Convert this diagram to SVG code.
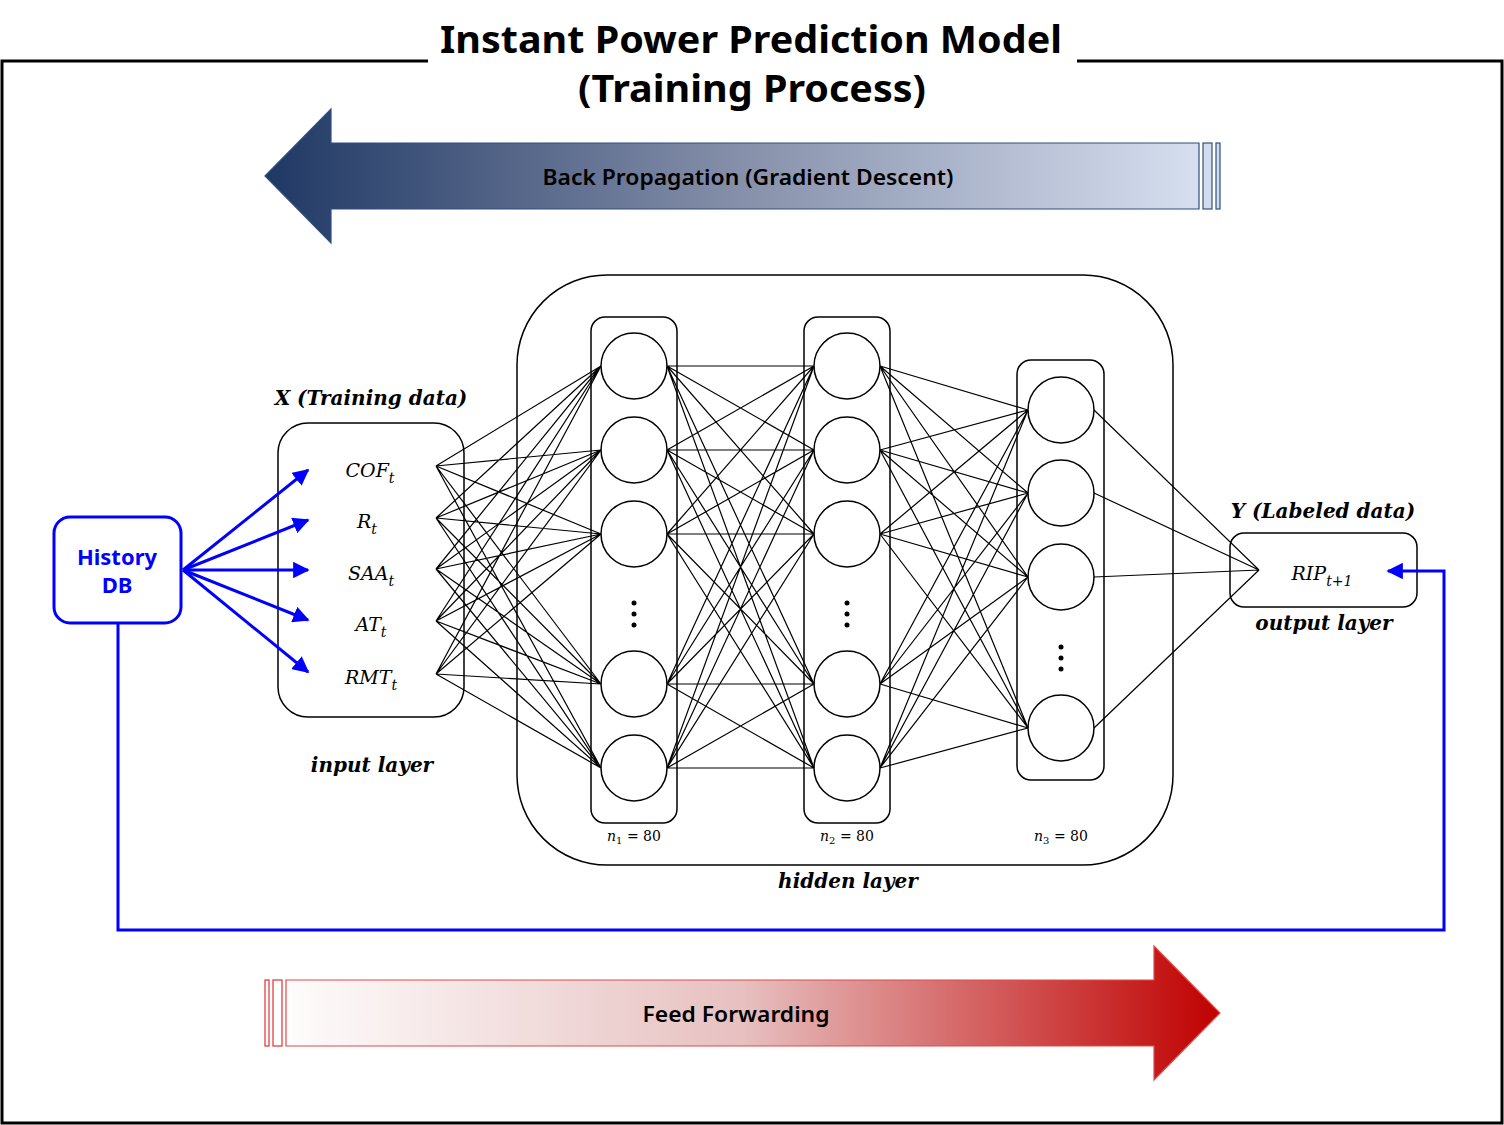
<svg xmlns="http://www.w3.org/2000/svg" width="1504" height="1125" viewBox="0 0 1504 1125">
<defs>
<linearGradient id="gBack" gradientUnits="userSpaceOnUse" x1="265" y1="0" x2="1220" y2="0">
<stop offset="0" stop-color="#1f3864"/>
<stop offset="0.5" stop-color="#8690aa"/>
<stop offset="1" stop-color="#dae3f3"/>
</linearGradient>
<linearGradient id="gFwd" gradientUnits="userSpaceOnUse" x1="265" y1="0" x2="1220" y2="0">
<stop offset="0" stop-color="#ffffff"/>
<stop offset="0.5" stop-color="#e7c0c0"/>
<stop offset="1" stop-color="#c00000"/>
</linearGradient>
<marker id="blueHead" viewBox="0 0 10 10" refX="9" refY="5" markerWidth="5.5" markerHeight="5.5" orient="auto" markerUnits="strokeWidth">
<path d="M0 0L10 5L0 10z" fill="#0000ff"/>
</marker>
</defs>
<style>
.title{font-family:"Noto Sans","Open Sans",sans-serif;font-weight:700;font-size:37px;fill:#000;text-anchor:middle}
.arrtxt{font-family:"Noto Sans","Open Sans",sans-serif;font-weight:600;font-size:22px;fill:#000;text-anchor:middle}
.db{font-family:"Noto Sans","Open Sans",sans-serif;font-weight:700;font-size:22px;fill:#0000ff;text-anchor:middle}
.math{font-family:"DejaVu Serif",serif;font-style:italic;font-size:19px;fill:#000;text-anchor:middle}
.lbl{font-family:"DejaVu Serif",serif;font-style:italic;font-weight:700;font-size:20px;fill:#000;text-anchor:middle}
.small{font-family:"DejaVu Serif",serif;font-size:14px;fill:#000;text-anchor:middle}
.box{fill:none;stroke:#000;stroke-width:1.5}
.neuron{fill:#fff;stroke:#000;stroke-width:1.5}
.conn{fill:none;stroke:#000;stroke-width:1.2}
.blue{fill:none;stroke:#0000ff;stroke-width:3}
</style>
<rect width="1504" height="1125" fill="#fff"/>
<path d="M428 61H2V1123H1502V61H1077" fill="none" stroke="#000" stroke-width="3"/>
<text class="title" x="751" y="53" textLength="622" lengthAdjust="spacingAndGlyphs">Instant Power Prediction Model</text>
<text class="title" x="752" y="102" textLength="348" lengthAdjust="spacingAndGlyphs">(Training Process)</text>

<g id="backprop">
<path d="M265 176L331 109V143H1199V209H331V243Z" fill="url(#gBack)" stroke="#2f4f80" stroke-width="1.2"/>
<rect x="1203" y="143" width="9" height="66" fill="#d3dcef" stroke="#2f4f80" stroke-width="1.2"/>
<rect x="1216" y="143" width="4" height="66" fill="#d3dcef" stroke="#2f4f80" stroke-width="1.2"/>
<text class="arrtxt" x="748" y="185" textLength="411" lengthAdjust="spacingAndGlyphs">Back Propagation (Gradient Descent)</text>
</g>

<g id="feedforward">
<path d="M286 980H1154V946L1220 1013L1154 1080V1046H286Z" fill="url(#gFwd)" stroke="#e04a4a" stroke-width="1.2"/>
<rect x="265" y="980" width="4" height="66" fill="#fff" stroke="#e03030" stroke-width="1.2"/>
<rect x="273" y="980" width="9" height="66" fill="#fff" stroke="#e03030" stroke-width="1.2"/>
<text class="arrtxt" x="736" y="1022" textLength="187" lengthAdjust="spacingAndGlyphs">Feed Forwarding</text>
</g>

<g id="history-db">
<rect x="54" y="517" width="127" height="106" rx="16" class="blue"/>
<text class="db" x="117" y="565">History</text>
<text class="db" x="117" y="593">DB</text>
</g>

<g id="input-layer">
<rect class="box" x="278" y="423" width="186" height="294" rx="30"/>
<text class="lbl" x="371" y="405">X (Training data)</text>
<text class="math" x="370" y="477">COF<tspan font-size="14" dy="6">t</tspan></text>
<text class="math" x="367" y="528">R<tspan font-size="14" dy="6">t</tspan></text>
<text class="math" x="371" y="580">SAA<tspan font-size="14" dy="6">t</tspan></text>
<text class="math" x="371" y="631">AT<tspan font-size="14" dy="6">t</tspan></text>
<text class="math" x="371" y="684">RMT<tspan font-size="14" dy="6">t</tspan></text>
<text class="lbl" x="372" y="772">input layer</text>
</g>

<g id="hidden-layer">
<rect class="box" x="517" y="275" width="656" height="590" rx="90"/>
<text class="lbl" x="848" y="888">hidden layer</text>
</g>

<g id="hidden-1">
<rect class="box" x="591" y="317" width="86" height="506" rx="14"/>
<circle class="neuron" cx="634" cy="366" r="33"/>
<circle class="neuron" cx="634" cy="450" r="33"/>
<circle class="neuron" cx="634" cy="534" r="33"/>
<circle cx="634" cy="603" r="2.5"/><circle cx="634" cy="614" r="2.5"/><circle cx="634" cy="625" r="2.5"/>
<circle class="neuron" cx="634" cy="684" r="33"/>
<circle class="neuron" cx="634" cy="768" r="33"/>
<text class="small" x="634" y="841"><tspan font-style="italic">n</tspan><tspan font-size="10" dy="3">1</tspan><tspan dy="-3"> = 80</tspan></text>
</g>

<g id="hidden-2">
<rect class="box" x="804" y="317" width="86" height="506" rx="14"/>
<circle class="neuron" cx="847" cy="366" r="33"/>
<circle class="neuron" cx="847" cy="450" r="33"/>
<circle class="neuron" cx="847" cy="534" r="33"/>
<circle cx="847" cy="603" r="2.5"/><circle cx="847" cy="614" r="2.5"/><circle cx="847" cy="625" r="2.5"/>
<circle class="neuron" cx="847" cy="684" r="33"/>
<circle class="neuron" cx="847" cy="768" r="33"/>
<text class="small" x="847" y="841"><tspan font-style="italic">n</tspan><tspan font-size="10" dy="3">2</tspan><tspan dy="-3"> = 80</tspan></text>
</g>

<g id="hidden-3">
<rect class="box" x="1017" y="360" width="87" height="420" rx="14"/>
<circle class="neuron" cx="1061" cy="410" r="33"/>
<circle class="neuron" cx="1061" cy="493" r="33"/>
<circle class="neuron" cx="1061" cy="577" r="33"/>
<circle cx="1061" cy="647" r="2.5"/><circle cx="1061" cy="658" r="2.5"/><circle cx="1061" cy="669" r="2.5"/>
<circle class="neuron" cx="1061" cy="728" r="33"/>
<text class="small" x="1061" y="841"><tspan font-style="italic">n</tspan><tspan font-size="10" dy="3">3</tspan><tspan dy="-3"> = 80</tspan></text>
</g>

<g id="output-layer">
<rect class="box" x="1230" y="533" width="187" height="74" rx="14"/>
<text class="lbl" x="1323" y="518">Y (Labeled data)</text>
<text class="math" x="1322" y="580">RIP<tspan font-size="14" dy="6">t+1</tspan></text>
<text class="lbl" x="1324" y="630">output layer</text>
</g>

<g id="connectors">
<path class="conn" d="M436 466L601 366M436 466L601 450M436 466L601 534M436 466L601 684M436 466L601 768
M436 518L601 366M436 518L601 450M436 518L601 534M436 518L601 684M436 518L601 768
M436 569L601 366M436 569L601 450M436 569L601 534M436 569L601 684M436 569L601 768
M436 621L601 366M436 621L601 450M436 621L601 534M436 621L601 684M436 621L601 768
M436 674L601 366M436 674L601 450M436 674L601 534M436 674L601 684M436 674L601 768"/>
<path class="conn" d="M667 366L814 366M667 366L814 450M667 366L814 534M667 366L814 684M667 366L814 768
M667 450L814 366M667 450L814 450M667 450L814 534M667 450L814 684M667 450L814 768
M667 534L814 366M667 534L814 450M667 534L814 534M667 534L814 684M667 534L814 768
M667 684L814 366M667 684L814 450M667 684L814 534M667 684L814 684M667 684L814 768
M667 768L814 366M667 768L814 450M667 768L814 534M667 768L814 684M667 768L814 768"/>
<path class="conn" d="M880 366L1028 410M880 366L1028 493M880 366L1028 577M880 366L1028 728
M880 450L1028 410M880 450L1028 493M880 450L1028 577M880 450L1028 728
M880 534L1028 410M880 534L1028 493M880 534L1028 577M880 534L1028 728
M880 684L1028 410M880 684L1028 493M880 684L1028 577M880 684L1028 728
M880 768L1028 410M880 768L1028 493M880 768L1028 577M880 768L1028 728"/>
<path class="conn" d="M1094 410L1259 570M1094 493L1259 570M1094 577L1259 570M1094 728L1259 570"/>
<path class="blue" marker-end="url(#blueHead)" d="M183 570L308 470"/>
<path class="blue" marker-end="url(#blueHead)" d="M183 570L308 520"/>
<path class="blue" marker-end="url(#blueHead)" d="M183 570L308 570"/>
<path class="blue" marker-end="url(#blueHead)" d="M183 570L308 620"/>
<path class="blue" marker-end="url(#blueHead)" d="M183 570L308 672"/>
<path class="blue" marker-end="url(#blueHead)" d="M118 623V930H1444V571H1388"/>
</g>
</svg>
